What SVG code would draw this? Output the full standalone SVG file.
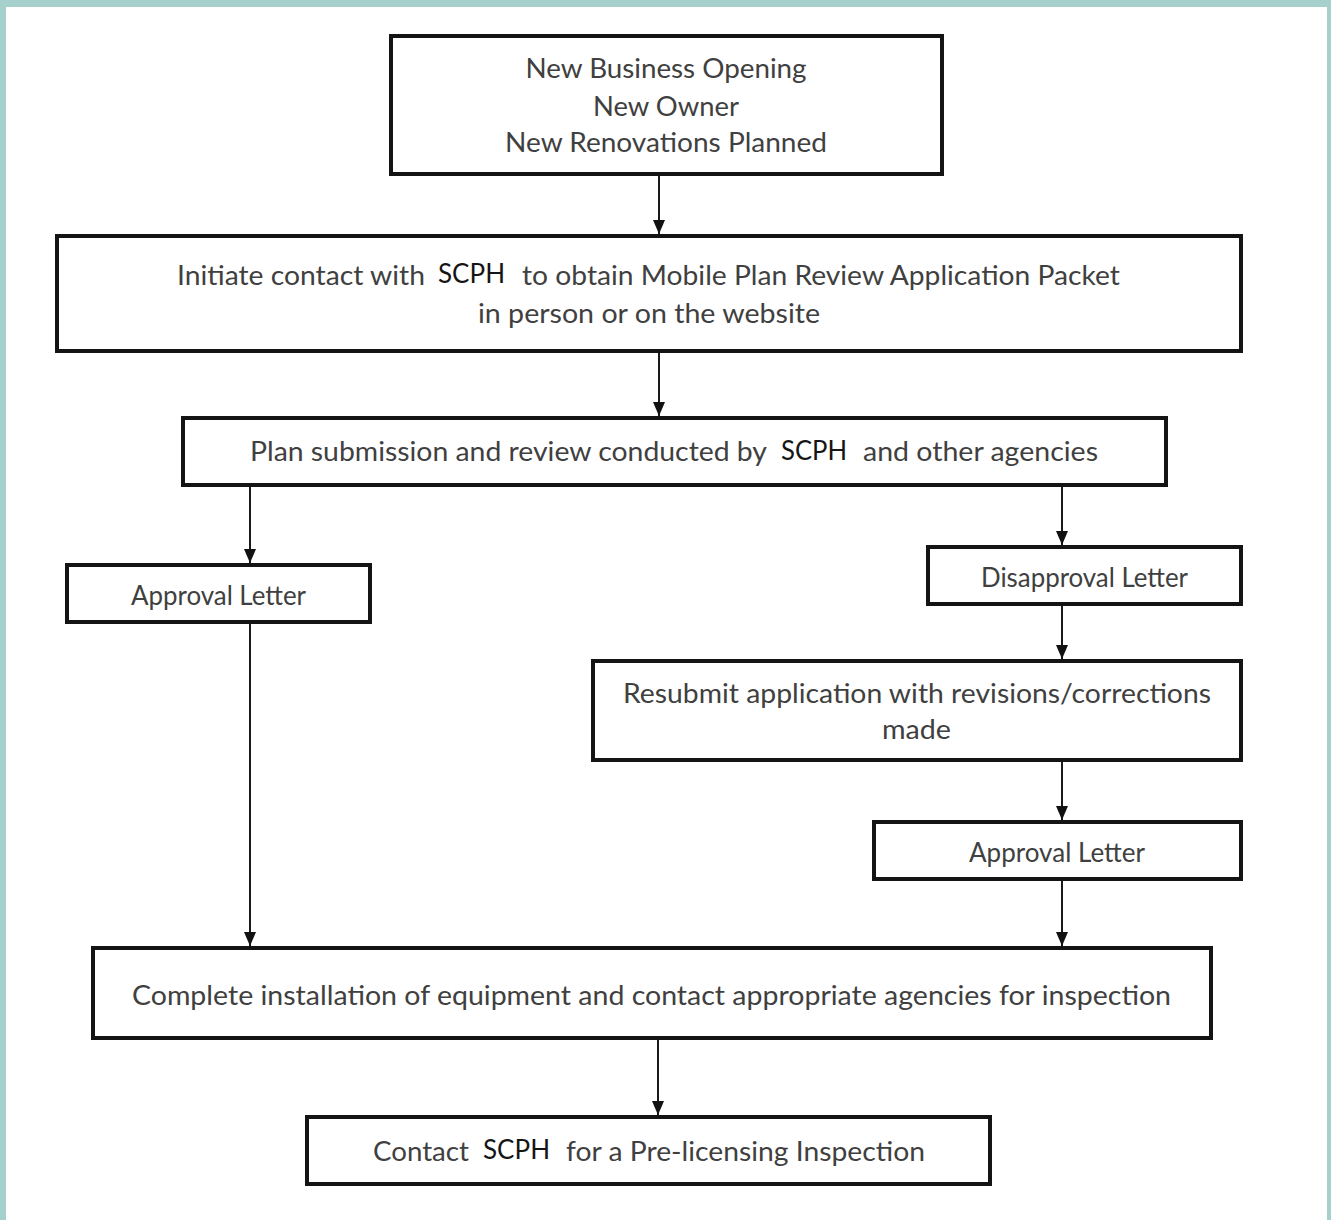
<svg xmlns="http://www.w3.org/2000/svg" width="1331" height="1220" viewBox="0 0 1331 1220">
<style>
.box{fill:#fff;stroke:#141414;stroke-width:4}
.t{font-family:Lato,"Open Sans",sans-serif;font-size:27px;fill:#404040}
.s{font-family:Lato,"Open Sans",sans-serif;font-size:27px;fill:#151515}
.c{stroke:#1a1a1a;stroke-width:2;fill:none}
</style>
<defs>
<marker id="ah" viewBox="0 0 14 12" refX="14" refY="6" markerWidth="14" markerHeight="12" markerUnits="userSpaceOnUse" orient="auto">
<path d="M0,0 L14,6 L0,12 Z" fill="#111"/>
</marker>
</defs>
<rect x="0" y="0" width="1331" height="1220" fill="#a6d0cc"/>
<rect x="6" y="7" width="1321" height="1213" fill="#fff"/>

<g id="connectors">
<line class="c" x1="659" y1="176" x2="659" y2="234" marker-end="url(#ah)"/>
<line class="c" x1="659" y1="353" x2="659" y2="416" marker-end="url(#ah)"/>
<line class="c" x1="250" y1="487" x2="250" y2="563" marker-end="url(#ah)"/>
<line class="c" x1="1062" y1="487" x2="1062" y2="545" marker-end="url(#ah)"/>
<line class="c" x1="1062" y1="606" x2="1062" y2="659" marker-end="url(#ah)"/>
<line class="c" x1="1062" y1="762" x2="1062" y2="820" marker-end="url(#ah)"/>
<line class="c" x1="250" y1="624" x2="250" y2="946" marker-end="url(#ah)"/>
<line class="c" x1="1062" y1="881" x2="1062" y2="946" marker-end="url(#ah)"/>
<line class="c" x1="658" y1="1040" x2="658" y2="1115" marker-end="url(#ah)"/>
</g>

<g id="n1">
<rect class="box" x="391" y="36" width="551" height="138"/>
<text class="t" x="666" y="78" text-anchor="middle" textLength="281" lengthAdjust="spacingAndGlyphs">New Business Opening</text>
<text class="t" x="666" y="116" text-anchor="middle" textLength="146" lengthAdjust="spacingAndGlyphs">New Owner</text>
<text class="t" x="666" y="152" text-anchor="middle" textLength="322" lengthAdjust="spacingAndGlyphs">New Renovations Planned</text>
</g>

<g id="n2">
<rect class="box" x="57" y="236" width="1184" height="115"/>
<text class="t" x="177" y="285" textLength="248" lengthAdjust="spacingAndGlyphs">Initiate contact with</text>
<text class="s" x="438" y="283" textLength="67" lengthAdjust="spacingAndGlyphs">SCPH</text>
<text class="t" x="522" y="285" textLength="598" lengthAdjust="spacingAndGlyphs">to obtain Mobile Plan Review Application Packet</text>
<text class="t" x="649" y="323" text-anchor="middle" textLength="342" lengthAdjust="spacingAndGlyphs">in person or on the website</text>
</g>

<g id="n3">
<rect class="box" x="183" y="418" width="983" height="67"/>
<text class="t" x="250" y="461" textLength="517" lengthAdjust="spacingAndGlyphs">Plan submission and review conducted by</text>
<text class="s" x="781" y="460" textLength="66" lengthAdjust="spacingAndGlyphs">SCPH</text>
<text class="t" x="863" y="461" textLength="235" lengthAdjust="spacingAndGlyphs">and other agencies</text>
</g>

<g id="n4">
<rect class="box" x="67" y="565" width="303" height="57"/>
<text class="t" x="131" y="605" textLength="175" lengthAdjust="spacingAndGlyphs">Approval Letter</text>
</g>

<g id="n5">
<rect class="box" x="928" y="547" width="313" height="57"/>
<text class="t" x="981" y="587" textLength="207" lengthAdjust="spacingAndGlyphs">Disapproval Letter</text>
</g>

<g id="n6">
<rect class="box" x="593" y="661" width="648" height="99"/>
<text class="t" x="623" y="703" textLength="588" lengthAdjust="spacingAndGlyphs">Resubmit application with revisions/corrections</text>
<text class="t" x="882" y="739" textLength="69" lengthAdjust="spacingAndGlyphs">made</text>
</g>

<g id="n7">
<rect class="box" x="874" y="822" width="367" height="57"/>
<text class="t" x="969" y="862" textLength="176" lengthAdjust="spacingAndGlyphs">Approval Letter</text>
</g>

<g id="n8">
<rect class="box" x="93" y="948" width="1118" height="90"/>
<text class="t" x="132" y="1005" textLength="1039" lengthAdjust="spacingAndGlyphs">Complete installation of equipment and contact appropriate agencies for inspection</text>
</g>

<g id="n9">
<rect class="box" x="307" y="1117" width="683" height="67"/>
<text class="t" x="373" y="1161" textLength="96" lengthAdjust="spacingAndGlyphs">Contact</text>
<text class="s" x="483" y="1159" textLength="67" lengthAdjust="spacingAndGlyphs">SCPH</text>
<text class="t" x="566" y="1161" textLength="359" lengthAdjust="spacingAndGlyphs">for a Pre-licensing Inspection</text>
</g>
</svg>
